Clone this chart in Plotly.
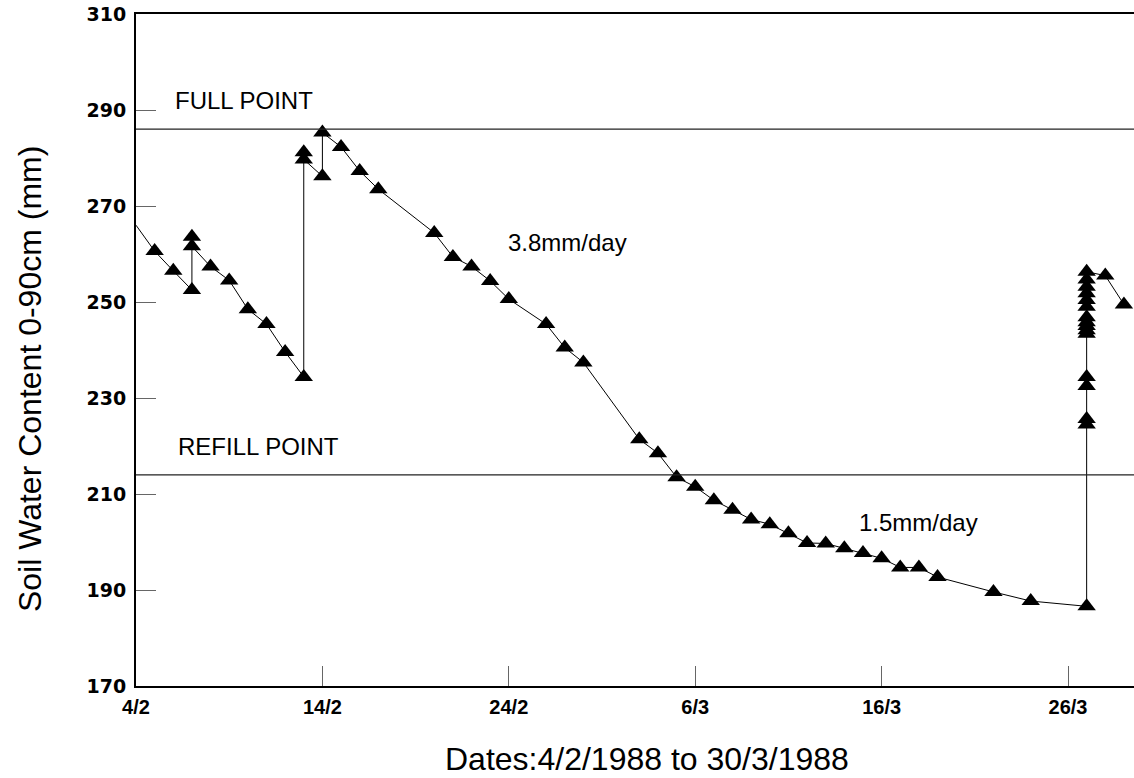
import plotly.graph_objects as go

# ---- data (day 0 = 4/2/1988) ----
days = [0, 1, 2, 3, 3, 3, 4, 5, 6, 7, 8, 9, 9, 9, 10, 10, 11, 12, 13,
        16, 17, 18, 19, 20, 22, 23, 24, 27, 28, 29, 30, 31, 32, 33, 34,
        35, 36, 37, 38, 39, 40, 41, 42, 43, 46, 48,
        51, 51, 51, 51, 51, 51, 51, 51, 51, 51, 51, 51, 51, 51, 51, 51,
        52, 53]
swc = [266.0, 260.6, 256.5, 252.5, 263.6, 261.6, 257.4, 254.5, 248.5, 245.4,
       239.6, 234.4, 281.2, 279.7, 276.2, 285.3, 282.3, 277.3, 273.5,
       264.4, 259.4, 257.4, 254.4, 250.6, 245.4, 240.5, 237.4, 221.4, 218.5,
       213.5, 211.5, 208.7, 206.7, 204.7, 203.7, 201.8, 199.8, 199.7, 198.7,
       197.7, 196.6, 194.7, 194.7, 192.7, 189.6, 187.7,
       186.6, 224.5, 225.6, 232.5, 234.4, 243.4, 244.1, 245.0, 245.8, 246.8,
       249.0, 250.4, 251.8, 253.2, 254.7, 256.3,
       255.5, 249.5]

full_point = 286
refill_point = 214
x_tickvals = [0, 10, 20, 30, 40, 50]
x_ticktext = ["4/2", "14/2", "24/2", "6/3", "16/3", "26/3"]
y_tickvals = [170, 190, 210, 230, 250, 270, 290, 310]

rate_labels = ["3.8mm/day", "1.5mm/day"]
rate_x = [19.85, 38.7]
rate_y = [262.4, 204.1]

# marker sizes: first point (start of record at the axis) shows no marker
sizes = [0] + [16] * (len(days) - 1)

fig = go.Figure()
fig.add_trace(go.Scatter(
    x=days, y=swc, mode="lines+markers",
    line=dict(color="black", width=1),
    marker=dict(symbol="triangle-up", size=sizes, color="#000000",
                opacity=1, line=dict(width=0)),
    showlegend=False, hoverinfo="x+y"))

for yv in (full_point, refill_point):
    fig.add_shape(type="line", xref="paper", yref="y", x0=0, x1=1,
                  y0=yv, y1=yv, line=dict(color="#222", width=1.2))

txt_font = dict(family="Liberation Sans, Arial, sans-serif", size=24, color="black")
fig.add_annotation(x=2.0, y=full_point + 6, text="FULL POINT", showarrow=False,
                   xanchor="left", yanchor="middle", font=txt_font)
fig.add_annotation(x=2.15, y=refill_point + 6, text="REFILL POINT", showarrow=False,
                   xanchor="left", yanchor="middle", font=txt_font)
for t, xx, yy in zip(rate_labels, rate_x, rate_y):
    fig.add_annotation(x=xx, y=yy, text=t, showarrow=False,
                       xanchor="left", yanchor="middle", font=txt_font)

title_font = dict(family="Liberation Sans, Arial, sans-serif", size=32, color="black")
fig.add_annotation(xref="paper", yref="paper", x=-0.106, y=0.457,
                   text="Soil Water Content 0-90cm (mm)", textangle=-90,
                   showarrow=False, xanchor="center", yanchor="middle",
                   font=title_font)
fig.add_annotation(xref="paper", yref="paper", x=0.512, y=-0.1086,
                   text="Dates:4/2/1988 to 30/3/1988",
                   showarrow=False, xanchor="center", yanchor="middle",
                   font=title_font)

xtick_font = dict(family="Liberation Sans, Arial, sans-serif", size=20, color="black", weight="bold")
ytick_font = dict(family="DejaVu Sans, sans-serif", size=19, color="black", weight="bold")

fig.update_xaxes(range=[0, 53.54], tickvals=x_tickvals, ticktext=x_ticktext,
                 ticks="inside", ticklen=20, tickcolor="#666", tickwidth=1,
                 showline=True, linecolor="black", linewidth=2, mirror=True,
                 showgrid=False, zeroline=False, tickfont=xtick_font,
                 ticklabelstandoff=2, ticklabeloverflow="allow")
fig.update_yaxes(range=[170, 310], tickvals=y_tickvals,
                 ticks="inside", ticklen=20, tickcolor="#666", tickwidth=1,
                 showline=True, linecolor="black", linewidth=2,
                 showgrid=False, zeroline=False, tickfont=ytick_font,
                 ticklabelstandoff=4, ticklabeloverflow="allow")

fig.update_layout(width=1134, height=778,
                  margin=dict(l=136, r=0, t=14, b=92),
                  plot_bgcolor="white", paper_bgcolor="white")

# remove the default 8px page margin so the figure fills the window exactly
fig.write_html("out.html", config={"displayModeBar": False},
               post_script="document.body.style.margin='0px';document.body.style.overflow='hidden';")
